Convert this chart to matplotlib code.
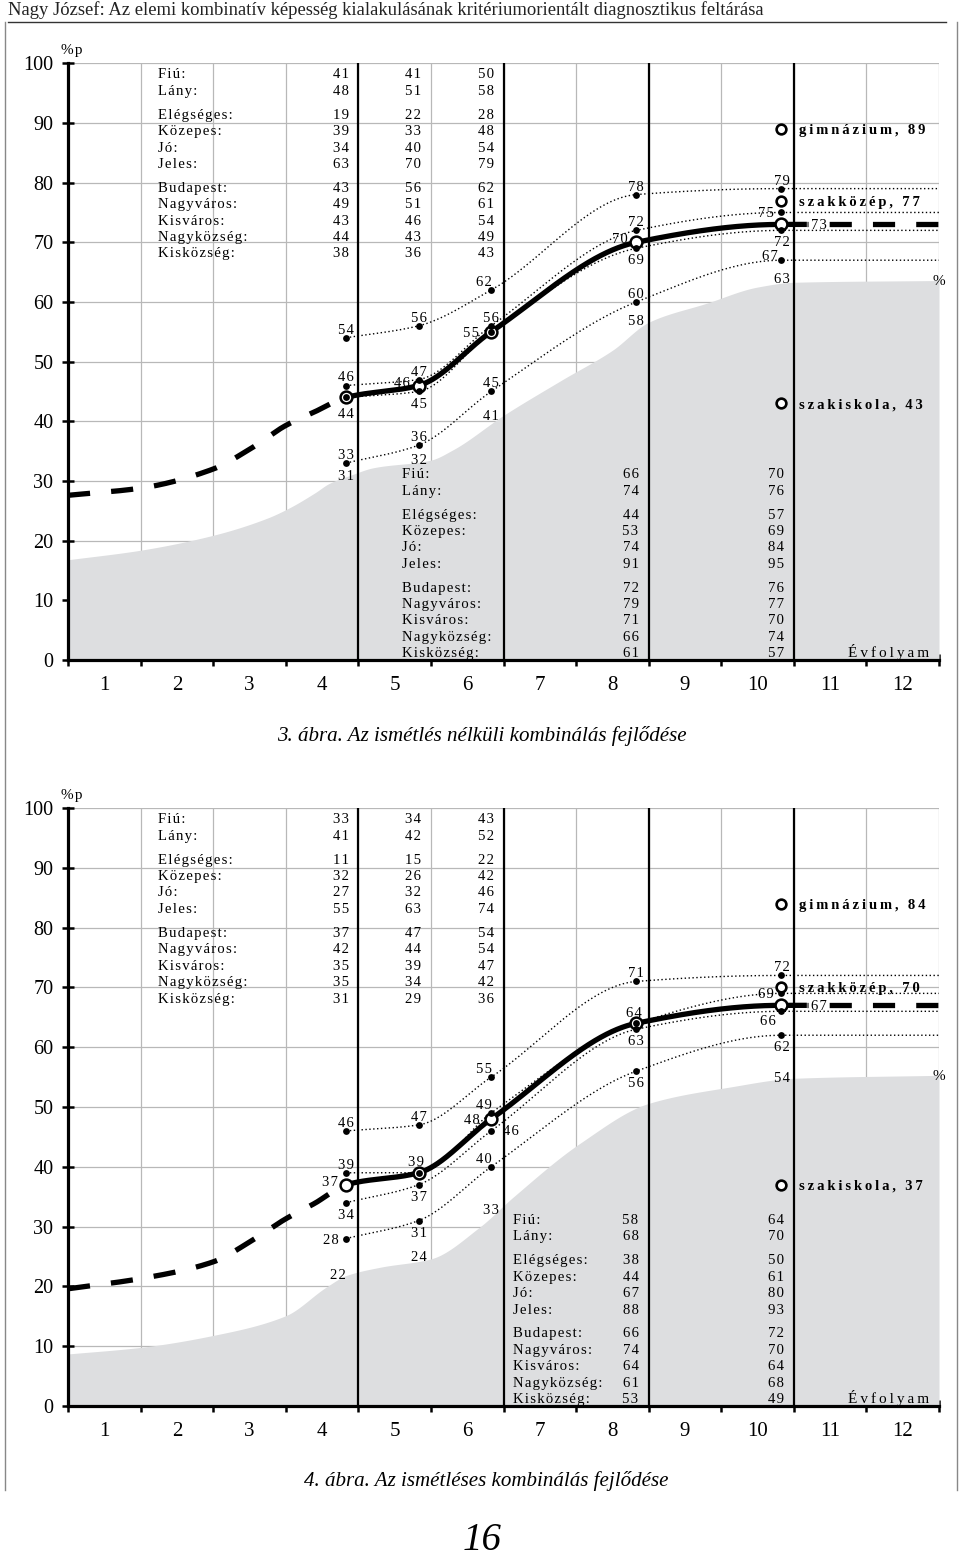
import numpy as np
import matplotlib
matplotlib.use('Agg')
import matplotlib.pyplot as plt
from matplotlib.lines import Line2D

SERIF = ['Liberation Serif', 'DejaVu Serif']
plt.rcParams['font.family'] = SERIF

FIG_W, FIG_H = 960, 1557

# ------------------------------------------------------------------ data
grades = [4, 5, 6, 8, 10]
xtick_labels = ['1', '2', '3', '4', '5', '6', '7', '8', '9', '10', '11', '12']
ytick_values = [0, 10, 20, 30, 40, 50, 60, 70, 80, 90, 100]
row_groups = [['Fiú:', 'Lány:'],
              ['Elégséges:', 'Közepes:', 'Jó:', 'Jeles:'],
              ['Budapest:', 'Nagyváros:', 'Kisváros:', 'Nagyközség:', 'Kisközség:']]
school_names = ['gimnázium', 'szakközép', 'szakiskola']

# --- 3. ábra
f3_lead_x = [0, 1, 2, 2.5, 3, 3.4]
f3_lead_y = [27.6, 28.8, 32.0, 35.3, 39.3, 41.6]
f3_mean = [44, 46, 55, 70, 73]
f3_line1 = [54, 56, 62, 78, 79]
f3_line2 = [46, 47, 56, 72, 75]
f3_line3 = [44, 45, 55, 69, 72]
f3_line4 = [33, 36, 45, 60, 67]
f3_floor = [31, 32, 41, 58, 63]
f3_gray_x = [0, 1, 2, 2.75, 3.05, 3.4, 3.6, 3.9, 4.2, 5.0, 5.3, 6.0, 6.8, 7.5, 8.0, 8.8, 9.5, 10.0, 12]
f3_gray_y = [16.8, 18.4, 20.9, 23.8, 25.5, 28.0, 29.6, 31.0, 32.2, 33.5, 35.2, 41.0, 46.9, 51.9, 56.6, 59.8, 62.5, 63.3, 63.6]
f3_school = [89, 77, 43]
f3_tab_g4 = [41, 48, 19, 39, 34, 63, 43, 49, 43, 44, 38]
f3_tab_g5 = [41, 51, 22, 33, 40, 70, 56, 51, 46, 43, 36]
f3_tab_g6 = [50, 58, 28, 48, 54, 79, 62, 61, 54, 49, 43]
f3_tab_g8 = [66, 74, 44, 53, 74, 91, 72, 79, 71, 66, 61]
f3_tab_g10 = [70, 76, 57, 69, 84, 95, 76, 77, 70, 74, 57]

# --- 4. ábra
f4_lead_x = [0, 1, 2, 2.5, 3, 3.4]
f4_lead_y = [19.6, 21.3, 24.1, 27.4, 31.3, 33.9]
f4_mean = [37, 39, 48, 64, 67]
f4_line1 = [46, 47, 55, 71, 72]
f4_line2 = [39, 39, 49, 64, 69]
f4_line3 = [34, 37, 46, 63, 66]
f4_line4 = [28, 31, 40, 56, 62]
f4_floor = [22, 24, 33, None, 54]
f4_gray_x = [0, 1, 2, 3, 3.56, 3.83, 4.3, 5.0, 5.67, 6.13, 7.05, 8.0, 9.1, 10.0, 12]
f4_gray_y = [8.7, 9.8, 11.8, 15.1, 19.9, 21.8, 23.2, 24.6, 29.9, 34.9, 43.9, 50.6, 53.3, 54.8, 55.3]
f4_school = [84, 70, 37]
f4_tab_g4 = [33, 41, 11, 32, 27, 55, 37, 42, 35, 35, 31]
f4_tab_g5 = [34, 42, 15, 26, 32, 63, 47, 44, 39, 34, 29]
f4_tab_g6 = [43, 52, 22, 42, 46, 74, 54, 54, 47, 42, 36]
f4_tab_g8 = [58, 68, 38, 44, 67, 88, 66, 74, 64, 61, 53]
f4_tab_g10 = [64, 70, 50, 61, 80, 93, 72, 70, 64, 68, 49]

header = 'Nagy József: Az elemi kombinatív képesség kialakulásának kritériumorientált diagnosztikus feltárása'
caption3 = '3. ábra. Az ismétlés nélküli kombinálás fejlődése'
caption4 = '4. ábra. Az ismétléses kombinálás fejlődése'
page_no = '16'

# ------------------------------------------------------------------ style / layout
GX_SHIFT = 0.17          # measurement taken near the end of each grade
SOLID_END = 10.18
OFFS = {
    'a': ((0, 6.5), 'center'),
    'aa': ((-2, 8.2), 'center'),
    'b': ((0, -8.0), 'center'),
    'bb': ((0, -11), 'center'),
    'al': ((-5, 6.5), 'center'),
    'L': ((-8.6, 3.6), 'center'),
    'l': ((-5.5, 0), 'right'),
    'lc': ((-8.5, 0), 'right'),
    'lu': ((-6, 2.8), 'right'),
    'r': ((8.5, 0.5), 'left'),
    'rr': ((21, 0), 'left'),
    'bl': ((-10, -6), 'center'),
    'c': ((0, 0), 'center'),
    'cl': ((-6, 0), 'center'),
    'ca': ((0, 4.5), 'center'),
    'caa': ((0, 7.5), 'center'),
    'cb': ((0, -4.5), 'center'),
}
HAIR = '\u200a'
THIN = '\u2009'
GRAY_FILL = '#dddee0'
GRID_C = '#b8b8b8'
TAB_SIZE = 10.6


def spaced(s, sep=HAIR):
    return sep.join(s)


def pchip(xk, yk, xs):
    xk = np.asarray(xk, float)
    yk = np.asarray(yk, float)
    h = np.diff(xk)
    d = np.diff(yk) / h
    n = len(xk)
    m = np.zeros(n)
    m[0] = d[0]
    m[-1] = d[-1]
    for k in range(1, n - 1):
        if d[k - 1] * d[k] > 0:
            w1 = 2 * h[k] + h[k - 1]
            w2 = h[k] + 2 * h[k - 1]
            m[k] = (w1 + w2) / (w1 / d[k - 1] + w2 / d[k])
    idx = np.clip(np.searchsorted(xk, xs) - 1, 0, n - 2)
    t = (xs - xk[idx]) / h[idx]
    h00 = 2 * t ** 3 - 3 * t ** 2 + 1
    h10 = t ** 3 - 2 * t ** 2 + t
    h01 = -2 * t ** 3 + 3 * t ** 2
    h11 = t ** 3 - t ** 2
    return h00 * yk[idx] + h10 * h[idx] * m[idx] + h01 * yk[idx + 1] + h11 * h[idx] * m[idx + 1]


def row_positions(y0, step=2.75, gap=1.25):
    ys = []
    y = y0
    for gi, grp in enumerate(row_groups):
        if gi > 0:
            y -= gap
        for _ in grp:
            ys.append(y)
            y -= step
    return ys


def label(ax, x, y, val, code, size=10.5):
    if code is None or val is None:
        return
    (dx, dy), ha = OFFS[code]
    ax.annotate(spaced(str(val)), (x, y), xytext=(dx, dy), textcoords='offset points',
                ha=ha, va='center_baseline', fontsize=size, zorder=8)


def draw_panel(ax, lead_x, lead_y, mean, lines, line_codes, mean_codes,
               floor_vals, floor_codes, gray_x, gray_y, school_vals,
               top_cols, low_cols, low_label_x):
    gx = [g - GX_SHIFT for g in grades]
    ax.set_xlim(0, 12)
    ax.set_ylim(0, 100)

    # axes & grid
    ax.set_xticks(range(13))
    ax.set_xticklabels([])
    ax.set_xticks(np.arange(0.5, 12, 1), minor=True)
    ax.set_xticklabels(xtick_labels, minor=True)
    ax.tick_params(axis='x', which='major', direction='inout', length=9, width=1.8)
    ax.tick_params(axis='x', which='minor', length=0, pad=11.5, labelsize=15)
    ax.set_yticks(ytick_values)
    ax.tick_params(axis='y', direction='inout', length=9, width=1.8, pad=6, labelsize=14.5)
    ax.set_axisbelow(True)
    ax.grid(True, which='major', color=GRID_C, lw=0.9)
    for s in ['top', 'right']:
        ax.spines[s].set_visible(False)
    for s in ['left', 'bottom']:
        ax.spines[s].set_linewidth(2.3)
        ax.spines[s].set_zorder(6)

    # gray distribution floor
    xs = np.linspace(0, 12, 1200)
    ax.fill_between(xs, 0, pchip(gray_x, gray_y, xs), color=GRAY_FILL, lw=0, zorder=1)

    for xv in [4, 6, 8, 10]:
        ax.axvline(xv, color='black', lw=1.6, zorder=2)

    # dotted group lines
    for vals in lines:
        kx = gx + [12]
        ky = list(vals) + [vals[-1]]
        xx = np.linspace(gx[0], 12, 600)
        ax.plot(xx, pchip(kx, ky, xx), color='black', lw=1.0, ls=(0, (1, 1.8)), zorder=3)

    # thick mean curve
    kx = list(lead_x) + gx + [12]
    ky = list(lead_y) + list(mean) + [mean[-1]]
    xx = np.linspace(0, 12, 2400)
    yy = pchip(kx, ky, xx)
    lw = 3.8
    m1 = xx <= gx[0] + 0.01
    ax.plot(xx[m1], yy[m1], color='black', lw=lw, ls=(0, (4.2, 4.0)),
            solid_capstyle='butt', dash_capstyle='butt', zorder=4)
    m2 = (xx >= gx[0]) & (xx <= SOLID_END)
    ax.plot(xx[m2], yy[m2], color='black', lw=lw, solid_capstyle='butt', zorder=4)
    m3 = xx >= SOLID_END
    ax.plot(xx[m3], yy[m3], color='black', lw=lw, ls=(4.0, (4.2, 4.0)),
            dash_capstyle='butt', zorder=4)
    ax.plot(gx, mean, 'o', ms=8.5, mfc='white', mec='black', mew=1.8, zorder=5)

    # dots on top
    for vals in lines:
        ax.plot(gx, vals, 'o', ms=4.9, color='black', mew=0, zorder=6)

    # labels
    for vals, codes in zip(lines, line_codes):
        for x, v, c in zip(gx, vals, codes):
            label(ax, x, v, v, c)
    for x, v, c in zip(gx, mean, mean_codes):
        label(ax, x, v, v, c)
    for x, v, c in zip(gx, floor_vals, floor_codes):
        if v is not None:
            label(ax, x, v, v, c)

    # secondary school types
    for name, v in zip(school_names, school_vals):
        ax.plot(gx[-1], v, 'o', ms=7, mfc='white', mec='black', mew=1.9, zorder=7)
        ax.text(10.07, v, spaced(f'{name}, {v}', THIN), weight='bold', fontsize=10.5,
                va='center_baseline', ha='left', zorder=8)

    # upper table (grades 4,5,6)
    ys = row_positions(98.3)
    labels_flat = [l for grp in row_groups for l in grp]
    for lab, y in zip(labels_flat, ys):
        ax.text(1.24, y, spaced(lab), fontsize=TAB_SIZE, ha='left', va='center_baseline', zorder=8)
    for col, x in zip(top_cols, gx[:3]):
        for v, y in zip(col, ys):
            ax.text(x + 0.04, y, spaced(str(v)), fontsize=TAB_SIZE, ha='right',
                    va='center_baseline', zorder=8)
    # lower table (grades 8,10)
    ys = row_positions(31.3)
    for lab, y in zip(labels_flat, ys):
        ax.text(low_label_x, y, spaced(lab), fontsize=TAB_SIZE, ha='left', va='center_baseline', zorder=8)
    for col, x in zip(low_cols, gx[3:]):
        for v, y in zip(col, ys):
            ax.text(x + 0.03, y, spaced(str(v)), fontsize=TAB_SIZE, ha='right',
                    va='center_baseline', zorder=8)

    ax.text(11.87, 1.6, spaced('Évfolyam', THIN), fontsize=11, ha='right',
            va='center_baseline', zorder=8)
    ax.text(12.0, gray_y[-1], '%', fontsize=11, ha='center', va='center_baseline',
            zorder=8, clip_on=False)
    ax.text(0.05, 102.4, '%' + HAIR + 'p', fontsize=11, ha='center', va='center_baseline',
            clip_on=False)


fig = plt.figure(figsize=(FIG_W / 100, FIG_H / 100), dpi=100)


def fx(px):
    return px / FIG_W


def fy(py):
    return 1 - py / FIG_H


ax1 = fig.add_axes([fx(68), fy(660), fx(939) - fx(68), fy(63.3) - fy(660)])
ax2 = fig.add_axes([fx(68), fy(1406), fx(939) - fx(68), fy(808) - fy(1406)])

draw_panel(ax1, f3_lead_x, f3_lead_y, f3_mean,
           [f3_line1, f3_line2, f3_line3, f3_line4],
           [['a', 'a', 'al', 'a', 'a'],
            ['a', 'a', 'a', 'a', 'l'],
            [None, 'b', None, 'b', 'b'],
            ['a', 'a', 'a', 'a', 'L']],
           ['bb', 'lu', 'lc', 'lu', 'rr'],
           f3_floor, ['c', 'caa', 'c', 'cb', 'ca'],
           f3_gray_x, f3_gray_y, f3_school,
           [f3_tab_g4, f3_tab_g5, f3_tab_g6], [f3_tab_g8, f3_tab_g10], 4.6)

draw_panel(ax2, f4_lead_x, f4_lead_y, f4_mean,
           [f4_line1, f4_line2, f4_line3, f4_line4],
           [['a', 'a', 'al', 'a', 'a'],
            ['a', None, 'al', None, 'l'],
            ['b', 'b', 'r', 'b', 'bl'],
            ['l', 'b', 'al', 'b', 'b']],
           ['lu', 'aa', 'lc', 'aa', 'rr'],
           f4_floor, ['cl', 'ca', 'c', None, 'ca'],
           f4_gray_x, f4_gray_y, f4_school,
           [f4_tab_g4, f4_tab_g5, f4_tab_g6], [f4_tab_g8, f4_tab_g10], 6.13)

# page furniture
fig.text(fx(8), fy(10), header, fontsize=13.45, ha='left', va='center', color='#222222')
fig.add_artist(Line2D([fx(8), fx(946)], [fy(22), fy(22)], color='#333333', lw=1.0))
fig.add_artist(Line2D([fx(5), fx(5)], [fy(22), fy(1490)], color='#888888', lw=1.0))
fig.add_artist(Line2D([fx(957), fx(957)], [fy(22), fy(1490)], color='#888888', lw=1.0))
fig.text(fx(482), fy(736.5), caption3, fontsize=15.1, style='italic', ha='center', va='center')
fig.text(fx(486), fy(1481), caption4, fontsize=15.1, style='italic', ha='center', va='center')
fig.text(fx(482), fy(1541), page_no, fontsize=28, style='italic', ha='center', va='center')

fig.savefig('out.png', dpi=100)
